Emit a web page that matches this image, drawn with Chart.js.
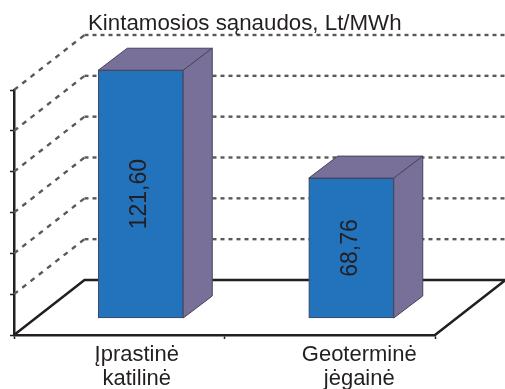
<!DOCTYPE html>
<html>
<head>
<meta charset="utf-8">
<style>
  html, body { margin: 0; padding: 0; background: #fff; }
  canvas { display: block; }
</style>
<script src="https://cdn.jsdelivr.net/npm/chart.js@4"></script>
</head>
<body>
<canvas id="costChart" width="505" height="389"></canvas>
<script>
const chartTitle = 'Kintamosios sąnaudos, Lt/MWh';
const categories = [['Įprastinė', 'katilinė'], ['Geoterminė', 'jėgainė']];
const costs = [121.60, 68.76];
const yMin = 0;
const yMax = 120;
const yStep = 20;

const INK = '#231f20';
const FONT = '"Liberation Sans", Arial, sans-serif';

// offsets of the fake 3D box: wall depth, bar position on the floor, bar depth
const WALL_DX = 70.5, WALL_DY = -55;
const BAR_SHIFT_X = 21.5, BAR_SHIFT_Y = -16.5;
const BAR_DX = 29, BAR_DY = -22;
const LABEL_SHIFT = [17.5, 29.5];

const formatCost = v => v.toFixed(2).replace('.', ',');

function polygon(ctx, pts, fill, stroke) {
  ctx.beginPath();
  pts.forEach((p, i) => i ? ctx.lineTo(p[0], p[1]) : ctx.moveTo(p[0], p[1]));
  ctx.closePath();
  ctx.fillStyle = fill;
  ctx.fill();
  ctx.lineWidth = 1;
  ctx.strokeStyle = stroke;
  ctx.stroke();
}

const box3d = {
  id: 'box3d',
  beforeDatasetsDraw(chart) {
    const { ctx, chartArea, scales } = chart;
    const left = chartArea.left, right = chartArea.right;
    const y0 = scales.y.getPixelForValue(yMin);

    // dashed wall lines, one per tick above the floor
    ctx.save();
    ctx.strokeStyle = '#58595b';
    ctx.lineWidth = 2.4;
    scales.y.ticks.forEach(t => {
      if (t.value === yMin) return;
      const y = scales.y.getPixelForValue(t.value);
      ctx.setLineDash([5, 5.5]);
      ctx.beginPath();
      ctx.moveTo(left, y);
      ctx.lineTo(left + WALL_DX, y + WALL_DY);
      ctx.stroke();
      ctx.setLineDash([4, 4]);
      ctx.beginPath();
      ctx.moveTo(left + WALL_DX, y + WALL_DY);
      ctx.lineTo(right + WALL_DX, y + WALL_DY);
      ctx.stroke();
    });
    ctx.setLineDash([]);

    // floor outline
    ctx.strokeStyle = INK;
    ctx.lineWidth = 2.5;
    ctx.beginPath();
    ctx.moveTo(left, y0);
    ctx.lineTo(left + WALL_DX, y0 + WALL_DY);
    ctx.lineTo(right + WALL_DX, y0 + WALL_DY);
    ctx.lineTo(right, y0);
    ctx.stroke();
    ctx.restore();

    // bars stand in the middle of the floor
    ctx.save();
    ctx.translate(BAR_SHIFT_X, BAR_SHIFT_Y);
  },
  afterDatasetsDraw(chart) {
    const { ctx, scales } = chart;
    ctx.restore();

    chart.getDatasetMeta(0).data.forEach((bar, i) => {
      const half = bar.width / 2;
      const x1 = bar.x - half + BAR_SHIFT_X;
      const x2 = bar.x + half + BAR_SHIFT_X;
      const top = bar.y + BAR_SHIFT_Y;
      const bottom = bar.base + BAR_SHIFT_Y;

      polygon(ctx, [[x1, top], [x1 + BAR_DX, top + BAR_DY], [x2 + BAR_DX, top + BAR_DY], [x2, top]], '#787098', '#45455c');
      polygon(ctx, [[x2, top], [x2 + BAR_DX, top + BAR_DY], [x2 + BAR_DX, bottom + BAR_DY], [x2, bottom]], '#787098', '#45455c');

      // value written up the front face
      ctx.save();
      ctx.translate((x1 + x2) / 2 - 1, (top + bottom) / 2);
      ctx.rotate(-Math.PI / 2);
      ctx.fillStyle = INK;
      ctx.font = '23px ' + FONT;
      ctx.textAlign = 'center';
      ctx.textBaseline = 'middle';
      ctx.fillText(formatCost(costs[i]), 0, 0);
      ctx.restore();
    });

    // category names under the axis
    ctx.save();
    ctx.fillStyle = INK;
    ctx.font = '22px ' + FONT;
    ctx.textAlign = 'center';
    ctx.textBaseline = 'alphabetic';
    categories.forEach((lines, i) => {
      const x = scales.x.getPixelForValue(i) + LABEL_SHIFT[i];
      lines.forEach((line, j) => ctx.fillText(line, x, 361 + j * 24));
    });

    ctx.font = '22.3px ' + FONT;
    ctx.textAlign = 'left';
    ctx.fillText(chartTitle, 88, 30);
    ctx.restore();
  }
};

new Chart(document.getElementById('costChart').getContext('2d'), {
  type: 'bar',
  data: {
    labels: categories,
    datasets: [{
      data: costs,
      backgroundColor: '#2372bc',
      borderColor: '#45455c',
      borderWidth: 1,
      borderSkipped: false,
      barThickness: 85,
      clip: false
    }]
  },
  options: {
    responsive: false,
    animation: false,
    layout: { padding: { left: 0, top: 90, right: 70, bottom: 0 } },
    plugins: { legend: { display: false }, title: { display: false }, tooltip: { enabled: false } },
    scales: {
      x: {
        afterFit: s => { s.height = 54; },
        border: { color: INK, width: 2.5 },
        grid: { drawOnChartArea: false, color: INK, tickLength: 4, tickWidth: 1.5 },
        ticks: { display: false }
      },
      y: {
        min: yMin,
        max: yMax,
        afterFit: s => { s.width = 14; },
        border: { color: INK, width: 2.5 },
        grid: { drawOnChartArea: false, color: INK, tickLength: 4, tickWidth: 1.5 },
        ticks: { display: false, stepSize: yStep }
      }
    }
  },
  plugins: [box3d]
});
</script>
</body>
</html>
